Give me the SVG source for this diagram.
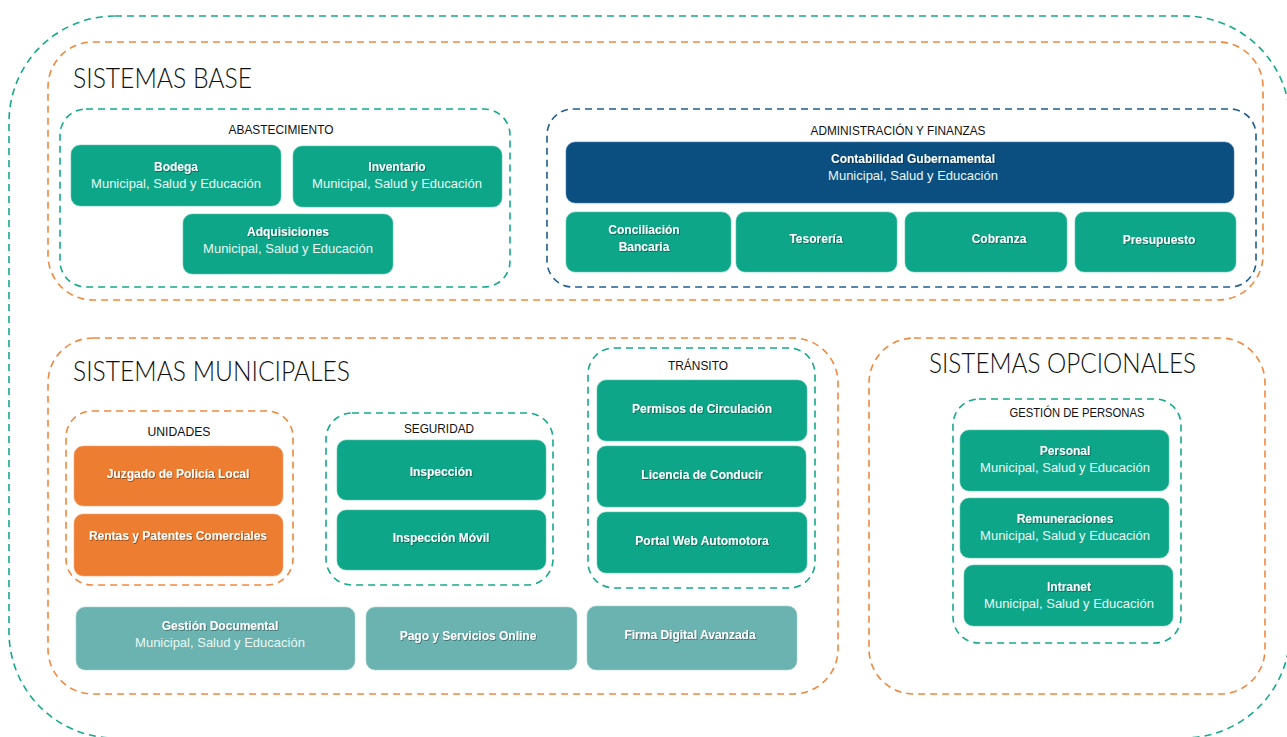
<svg xmlns="http://www.w3.org/2000/svg" width="1287" height="737" viewBox="0 0 1287 737">
<defs>
<filter id="ts" x="-10%" y="-30%" width="120%" height="160%">
<feDropShadow dx="0.8" dy="0.8" stdDeviation="0.6" flood-color="#000" flood-opacity="0.45"/>
</filter>
</defs>
<style>
.dt{fill:none;stroke:#14A98B;stroke-width:1.6;stroke-dasharray:7 5}
.do{fill:none;stroke:#F0883F;stroke-width:1.6;stroke-dasharray:7 5}
.dn{fill:none;stroke:#1E5C91;stroke-width:1.6;stroke-dasharray:7 5}
.nt{fill:#0DA688;stroke:#5CC7AE;stroke-width:0.6}
.no{fill:#ED7D31;stroke:#F5A878;stroke-width:0.6}
.ng{fill:#6BB3B0;stroke:#A6D3D0;stroke-width:0.6}
.nn{fill:#0A4F80;stroke:#4F82AE;stroke-width:0.6}
.h{font-family:Lato,"Liberation Sans",Arial,sans-serif;font-weight:300;font-size:28px;fill:#111}
.g{font-family:"Liberation Sans",Arial,sans-serif;font-size:13px;fill:#111;text-anchor:middle}
.t{font-family:"Liberation Sans",Arial,sans-serif;font-size:12px;font-weight:bold;fill:#fff;text-anchor:middle;filter:url(#ts)}
.s{font-family:"Liberation Sans",Arial,sans-serif;font-size:13px;fill:#EAF7F3;text-anchor:middle}
</style>

<g id="frame-outer"><rect class="dt" x="9" y="16" width="1281" height="722" rx="106"/></g>

<g id="sistemas-base">
<rect class="do" x="48" y="42" width="1215" height="258" rx="45"/>
<text class="h" x="73" y="88" textLength="179" lengthAdjust="spacingAndGlyphs">SISTEMAS BASE</text>
</g>

<g id="abastecimiento">
<rect class="dt" x="60" y="109" width="450" height="178" rx="26"/>
<text class="g" x="281" y="134" textLength="105" lengthAdjust="spacingAndGlyphs">ABASTECIMIENTO</text>
</g>
<g id="bodega">
<rect class="nt" x="71" y="145" width="210" height="61" rx="9"/>
<text class="t" x="176" y="171">Bodega</text>
<text class="s" x="176" y="188">Municipal, Salud y Educación</text>
</g>
<g id="inventario">
<rect class="nt" x="293" y="146" width="209" height="61" rx="9"/>
<text class="t" x="397" y="171">Inventario</text>
<text class="s" x="397" y="188">Municipal, Salud y Educación</text>
</g>
<g id="adquisiciones">
<rect class="nt" x="183" y="214" width="210" height="60" rx="9"/>
<text class="t" x="288" y="236">Adquisiciones</text>
<text class="s" x="288" y="253">Municipal, Salud y Educación</text>
</g>

<g id="admin-finanzas">
<rect class="dn" x="547" y="109" width="709" height="178" rx="26"/>
<text class="g" x="898" y="135" textLength="175" lengthAdjust="spacingAndGlyphs">ADMINISTRACIÓN Y FINANZAS</text>
</g>
<g id="contabilidad">
<rect class="nn" x="566" y="142" width="668" height="61" rx="9"/>
<text class="t" x="913" y="163">Contabilidad Gubernamental</text>
<text class="s" x="913" y="180">Municipal, Salud y Educación</text>
</g>
<g id="conciliacion">
<rect class="nt" x="566" y="212" width="165" height="60" rx="9"/>
<text class="t" x="644" y="234">Conciliación</text>
<text class="t" x="644" y="251">Bancaria</text>
</g>
<g id="tesoreria">
<rect class="nt" x="736" y="212" width="161" height="60" rx="9"/>
<text class="t" x="816" y="243">Tesorería</text>
</g>
<g id="cobranza">
<rect class="nt" x="905" y="212" width="162" height="60" rx="9"/>
<text class="t" x="999" y="243">Cobranza</text>
</g>
<g id="presupuesto">
<rect class="nt" x="1075" y="212" width="161" height="60" rx="9"/>
<text class="t" x="1159" y="244">Presupuesto</text>
</g>

<g id="sistemas-municipales">
<rect class="do" x="48" y="338" width="790" height="356" rx="45"/>
<text class="h" x="73" y="381" textLength="277" lengthAdjust="spacingAndGlyphs">SISTEMAS MUNICIPALES</text>
</g>
<g id="unidades">
<rect class="do" x="66" y="411" width="227" height="174" rx="26"/>
<text class="g" x="179" y="436" textLength="63" lengthAdjust="spacingAndGlyphs">UNIDADES</text>
</g>
<g id="juzgado">
<rect class="no" x="74" y="446" width="209" height="60" rx="9"/>
<text class="t" x="178" y="478">Juzgado de Policía Local</text>
</g>
<g id="rentas">
<rect class="no" x="74" y="514" width="209" height="62" rx="9"/>
<text class="t" x="178" y="540">Rentas y Patentes Comerciales</text>
</g>
<g id="seguridad">
<rect class="dt" x="326" y="413" width="227" height="172" rx="26"/>
<text class="g" x="439" y="433" textLength="70" lengthAdjust="spacingAndGlyphs">SEGURIDAD</text>
</g>
<g id="inspeccion">
<rect class="nt" x="337" y="440" width="209" height="60" rx="9"/>
<text class="t" x="441" y="476">Inspección</text>
</g>
<g id="inspeccion-movil">
<rect class="nt" x="337" y="510" width="209" height="60" rx="9"/>
<text class="t" x="441" y="542">Inspección Móvil</text>
</g>
<g id="transito">
<rect class="dt" x="588" y="348" width="227" height="240" rx="26"/>
<text class="g" x="698" y="370" textLength="60" lengthAdjust="spacingAndGlyphs">TRÁNSITO</text>
</g>
<g id="permisos">
<rect class="nt" x="597" y="380" width="210" height="61" rx="9"/>
<text class="t" x="702" y="413">Permisos de Circulación</text>
</g>
<g id="licencia">
<rect class="nt" x="597" y="446" width="209" height="61" rx="9"/>
<text class="t" x="702" y="479">Licencia de Conducir</text>
</g>
<g id="portal-web">
<rect class="nt" x="597" y="512" width="210" height="61" rx="9"/>
<text class="t" x="702" y="545">Portal Web Automotora</text>
</g>
<g id="gestion-documental">
<rect class="ng" x="76" y="607" width="279" height="63" rx="9"/>
<text class="t" x="220" y="630">Gestión Documental</text>
<text class="s" x="220" y="647">Municipal, Salud y Educación</text>
</g>
<g id="pago-servicios">
<rect class="ng" x="366" y="607" width="211" height="63" rx="9"/>
<text class="t" x="468" y="640">Pago y Servicios Online</text>
</g>
<g id="firma-digital">
<rect class="ng" x="587" y="606" width="210" height="64" rx="9"/>
<text class="t" x="690" y="639">Firma Digital Avanzada</text>
</g>

<g id="sistemas-opcionales">
<rect class="do" x="869" y="338" width="396" height="356" rx="45"/>
<text class="h" x="929" y="373" textLength="267" lengthAdjust="spacingAndGlyphs">SISTEMAS OPCIONALES</text>
</g>
<g id="gestion-personas">
<rect class="dt" x="953" y="399" width="228" height="244" rx="26"/>
<text class="g" x="1077" y="417" textLength="135" lengthAdjust="spacingAndGlyphs">GESTIÓN DE PERSONAS</text>
</g>
<g id="personal">
<rect class="nt" x="960" y="430" width="209" height="61" rx="9"/>
<text class="t" x="1065" y="455">Personal</text>
<text class="s" x="1065" y="472">Municipal, Salud y Educación</text>
</g>
<g id="remuneraciones">
<rect class="nt" x="960" y="498" width="209" height="60" rx="9"/>
<text class="t" x="1065" y="523">Remuneraciones</text>
<text class="s" x="1065" y="540">Municipal, Salud y Educación</text>
</g>
<g id="intranet">
<rect class="nt" x="964" y="565" width="209" height="61" rx="9"/>
<text class="t" x="1069" y="591">Intranet</text>
<text class="s" x="1069" y="608">Municipal, Salud y Educación</text>
</g>

<g id="connectors"></g>
</svg>
